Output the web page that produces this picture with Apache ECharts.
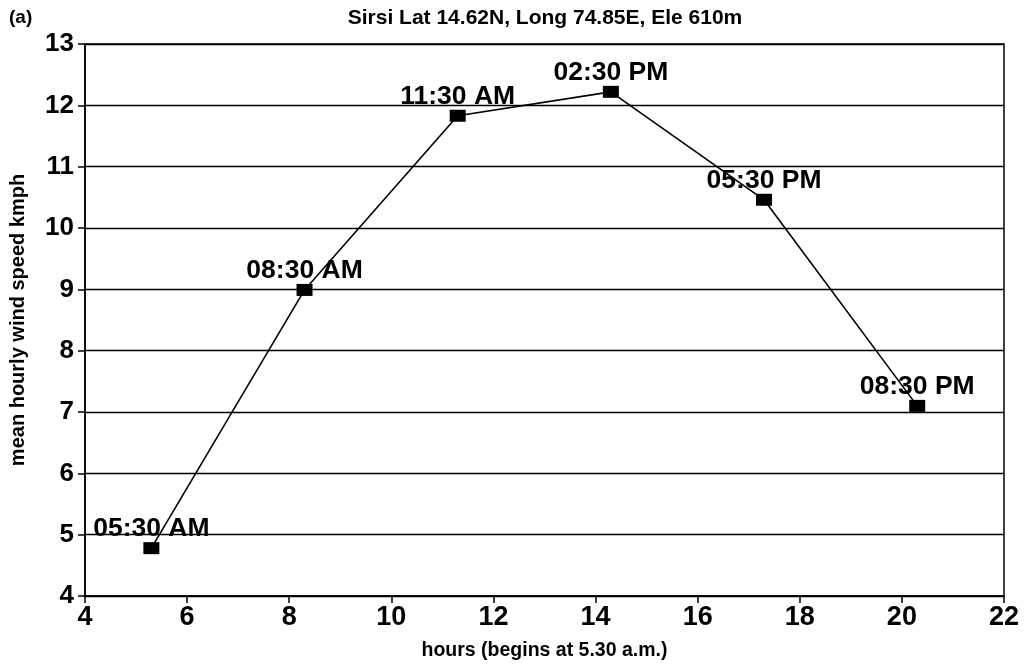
<!DOCTYPE html>
<html>
<head>
<meta charset="utf-8">
<script src="https://cdn.jsdelivr.net/npm/echarts@6/dist/echarts.min.js"></script>
<style>
  html, body { margin: 0; padding: 0; background: #fff; }
  #chart { width: 1031px; height: 666px; }
</style>
</head>
<body>
<div id="chart"></div>
<script>
// Hours since midnight for each observation
const hours = [5.3, 8.3, 11.3, 14.3, 17.3, 20.3];
// Mean hourly wind speed (kmph)
const windSpeed = [4.78, 8.99, 11.83, 12.22, 10.46, 7.10];
// Observation time labels
const timeLabels = ['05:30 AM', '08:30 AM', '11:30 AM', '02:30 PM', '05:30 PM', '08:30 PM'];

const FONT = 'Liberation Sans, Arial, sans-serif';

const points = hours.map((h, i) => ({ value: [h, windSpeed[i]], label: timeLabels[i] }));

const chart = echarts.init(document.getElementById('chart'));
chart.setOption({
  backgroundColor: '#fff',
  animation: false,
  title: [
    {
      text: 'Sirsi Lat 14.62N, Long 74.85E, Ele 610m',
      left: 540, top: 3, textAlign: 'center',
      textStyle: { fontFamily: FONT, fontSize: 21, fontWeight: 'bold', color: '#000' }
    },
    {
      text: '(a)',
      left: 4, top: 3,
      textStyle: { fontFamily: FONT, fontSize: 19, fontWeight: 'bold', color: '#000' }
    }
  ],
  grid: { left: 84, right: 27, top: 44, bottom: 69, show: true, borderColor: '#000', borderWidth: 1.5 },
  xAxis: {
    type: 'value', min: 4, max: 22, interval: 2,
    name: 'hours (begins at 5.30 a.m.)', nameLocation: 'middle', nameGap: 45,
    nameTextStyle: { fontFamily: FONT, fontSize: 19.5, fontWeight: 'bold', color: '#000' },
    axisLine: { show: true, lineStyle: { color: '#000', width: 1.5 } },
    axisTick: { show: true, inside: false, length: 7, lineStyle: { color: '#000', width: 1.5 } },
    axisLabel: { fontFamily: FONT, fontSize: 27, fontWeight: 'bold', color: '#000', margin: 8 },
    splitLine: { show: false }
  },
  yAxis: {
    type: 'value', min: 4, max: 13, interval: 1,
    name: 'mean hourly wind speed kmph', nameLocation: 'middle', nameGap: 57,
    nameTextStyle: { fontFamily: FONT, fontSize: 20, fontWeight: 'bold', color: '#000' },
    axisLine: { show: true, lineStyle: { color: '#000', width: 1.5 } },
    axisTick: { show: true, inside: false, length: 7, lineStyle: { color: '#000', width: 1.5 } },
    axisLabel: { fontFamily: FONT, fontSize: 26, fontWeight: 'bold', color: '#000', margin: 11 },
    splitLine: { show: true, lineStyle: { color: '#000', width: 1.4 } }
  },
  series: [{
    type: 'line',
    data: points,
    symbol: 'rect',
    symbolSize: [16, 12],
    itemStyle: { color: '#000' },
    lineStyle: { color: '#000', width: 1.6 },
    label: {
      show: true, position: 'top', distance: 0,
      formatter: p => p.data.label,
      fontFamily: FONT, fontSize: 26.5, fontWeight: 'bold', color: '#000'
    }
  }]
});
</script>
</body>
</html>
